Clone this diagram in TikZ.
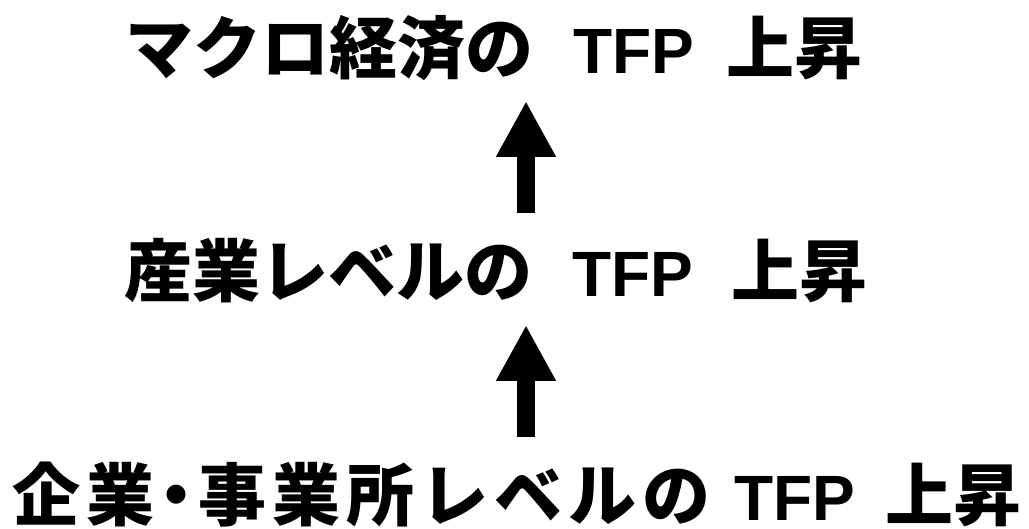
\documentclass[tikz,border=0pt]{standalone}
\usepackage{fontspec}
\newfontfamily\jp{Noto Sans CJK JP}
\newfontfamily\lat{Liberation Sans}
\usetikzlibrary{arrows.meta}
\begin{document}
\begin{tikzpicture}[x=1pt,y=1pt,
  lbl/.style={anchor=base west,inner sep=0pt,font=\jp\bfseries\fontsize{68}{80}\selectfont},
  bigarrow/.style={line width=18pt,line cap=butt,-{Triangle[width=56pt,length=56pt]}}]
\useasboundingbox (0,0) rectangle (1029,529);
\newcommand{\tfp}[2]{\hspace{#1}{\lat\bfseries\fontsize{64}{76}\selectfont TFP}\hspace{#2}}
\newcommand{\ks}{\hspace{6pt}}
\node[lbl] (l1) at (125,455) {マクロ経済の\tfp{40pt}{32pt}上昇};
\node[lbl] (l2) at (124,232) {産業レベルの\tfp{40pt}{38pt}上昇};
\node[lbl] (l3) at (12,8) {企\ks 業\hspace{-12pt}・\hspace{-12pt}事\ks 業\ks 所\ks レ\ks ベ\ks ル\ks の\tfp{24pt}{30pt}上昇};
\coordinate (a1s) at (526,316);
\coordinate (a1e) at (526,428);
\coordinate (a2s) at (526,92);
\coordinate (a2e) at (526,204);
\draw[bigarrow] (a1s) -- (a1e);
\draw[bigarrow] (a2s) -- (a2e);
\end{tikzpicture}
\end{document}
